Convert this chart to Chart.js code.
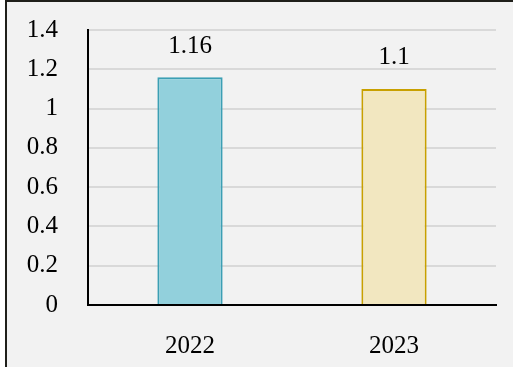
<!DOCTYPE html>
<html lang="en">
<head>
<meta charset="UTF-8">
<title>2022 vs 2023</title>
<script src="https://cdn.jsdelivr.net/npm/chart.js"></script>
<style>
    body { margin: 0; background: #ffffff; overflow: hidden; }
    #frame {
        position: absolute; left: 5px; top: 0px;
        width: 600px; height: 500px;
        border: 2px solid #1f1f1a;
        background: #f2f2f2;
    }
    .chart-wrapper { position: absolute; left: 0; top: 0; width: 513px; height: 367px; }
</style>
</head>
<body>
<div id="frame"></div>
<div class="chart-wrapper"><canvas id="myChart" width="513" height="367"></canvas></div>
<script>
    const years = ['2022', '2023'];
    const values = [1.16, 1.1];
    const fillColors = ['#92d0dc', '#f2e7c0'];
    const lineColors = ['#3c9fb4', '#c8a000'];

    const font = { family: '"Liberation Serif", "Times New Roman", serif', size: 25 };

    // value labels above each bar
    const valueLabels = {
        id: 'valueLabels',
        afterDatasetsDraw(chart) {
            const { ctx } = chart;
            const meta = chart.getDatasetMeta(0);
            ctx.save();
            ctx.font = font.size + 'px ' + font.family;
            ctx.fillStyle = '#000';
            ctx.textAlign = 'center';
            ctx.textBaseline = 'middle';
            meta.data.forEach((bar, i) => {
                ctx.fillText(String(values[i]), bar.x, bar.y - 31);
            });
            ctx.restore();
        }
    };

    const ctx = document.getElementById('myChart').getContext('2d');
    new Chart(ctx, {
        type: 'bar',
        data: {
            labels: years,
            datasets: [{
                data: values,
                backgroundColor: fillColors,
                borderColor: lineColors,
                borderWidth: 2,
                barPercentage: 0.32,
                categoryPercentage: 1
            }]
        },
        options: {
            responsive: false,
            animation: false,
            layout: { padding: { top: 30, right: 17, left: 0, bottom: 0 } },
            plugins: { legend: { display: false }, tooltip: { enabled: false } },
            scales: {
                x: {
                    grid: { display: false, drawTicks: false },
                    border: { color: '#000', width: 2 },
                    ticks: { color: '#000', font: font, padding: 26 },
                    afterFit(scale) {
                        scale.height = 62;
                        scale.paddingLeft = 0;
                        scale.paddingRight = 0;
                    }
                },
                y: {
                    min: 0,
                    max: 1.4,
                    grid: { color: '#d9d9d9', lineWidth: 2, drawTicks: false },
                    border: { color: '#000', width: 2 },
                    ticks: {
                        stepSize: 0.2,
                        autoSkip: false,
                        color: '#000',
                        font: font,
                        padding: 30,
                        callback: v => String(Math.round(v * 10) / 10)
                    },
                    afterFit(scale) {
                        scale.width = 88;
                        scale.paddingTop = 0;
                        scale.paddingBottom = 0;
                    }
                }
            }
        },
        plugins: [valueLabels]
    });
</script>
</body>
</html>
